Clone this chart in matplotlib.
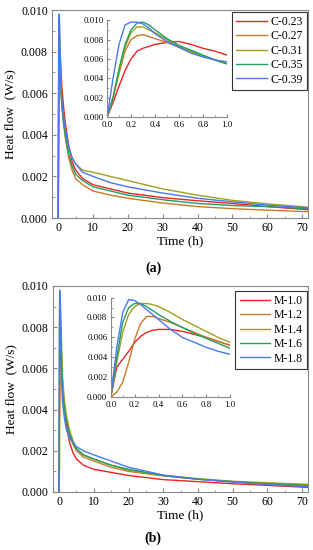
import numpy as np
import matplotlib
matplotlib.use("Agg")
import matplotlib.pyplot as plt
from matplotlib.ticker import MultipleLocator

plt.rcParams['font.family'] = ['Liberation Serif', 'DejaVu Serif']

colors = ['#ee2222', '#c87a28', '#a0a020', '#20a060', '#4a78f0']

# ---- panel (a) ----
labels_a = ['C-0.23', 'C-0.27', 'C-0.31', 'C-0.35', 'C-0.39']
t_early = [0.0, 0.05, 0.1, 0.15, 0.2, 0.25, 0.3, 0.35, 0.4, 0.5, 0.6, 0.7, 0.8, 0.9]
early_a = [
    [0.0, 0.0015, 0.0032, 0.0048, 0.0060, 0.0068, 0.0071, 0.0073, 0.0075, 0.0077, 0.0078, 0.0075, 0.0071, 0.0068],
    [0.0, 0.0020, 0.0045, 0.0068, 0.0080, 0.0084, 0.0085, 0.0083, 0.0081, 0.0077, 0.0072, 0.0067, 0.0063, 0.0059],
    [0.0, 0.0020, 0.0048, 0.0072, 0.0087, 0.0093, 0.0093, 0.0090, 0.0087, 0.0080, 0.0073, 0.0068, 0.0063, 0.0059],
    [0.0, 0.0020, 0.0050, 0.0075, 0.0090, 0.0097, 0.0098, 0.0095, 0.0090, 0.0081, 0.0074, 0.0069, 0.0064, 0.0059],
    [0.0, 0.0040, 0.0075, 0.0095, 0.0098, 0.0098, 0.0096, 0.0092, 0.0086, 0.0078, 0.0072, 0.0066, 0.0062, 0.0059],
]
t_late = [1, 1.5, 2, 3, 4, 5, 7, 10, 15, 20, 30, 40, 50, 60, 72]
late_a = [
    [0.0064, 0.0054, 0.0046, 0.0035, 0.0027, 0.0023, 0.0019, 0.0016, 0.0014, 0.0012, 0.00098, 0.00083, 0.0007, 0.00055, 0.0004],
    [0.0055, 0.0046, 0.0039, 0.0029, 0.0023, 0.0019, 0.0016, 0.0013, 0.0011, 0.00095, 0.00072, 0.00055, 0.00045, 0.00038, 0.0003],
    [0.0055, 0.0048, 0.0042, 0.0034, 0.0029, 0.0026, 0.0023, 0.0022, 0.0020, 0.0018, 0.0014, 0.0011, 0.00085, 0.00068, 0.00052],
    [0.0055, 0.0046, 0.0040, 0.0031, 0.0025, 0.0021, 0.0018, 0.0015, 0.0013, 0.0011, 0.00088, 0.0007, 0.0006, 0.00055, 0.00045],
    [0.0057, 0.0049, 0.0043, 0.0034, 0.0029, 0.0026, 0.0022, 0.0020, 0.0017, 0.0015, 0.0012, 0.00095, 0.00078, 0.00062, 0.00048],
]

# ---- panel (b) ----
labels_b = ['M-1.0', 'M-1.2', 'M-1.4', 'M-1.6', 'M-1.8']
early_b = [
    [0.0, 0.0030, 0.0038, 0.0046, 0.0055, 0.0061, 0.0065, 0.0067, 0.0068, 0.0068, 0.0066, 0.0063, 0.0060, 0.0056],
    [0.0, 0.0005, 0.0015, 0.0035, 0.0058, 0.0074, 0.0081, 0.0081, 0.0079, 0.0075, 0.0070, 0.0065, 0.0060, 0.0056],
    [0.0, 0.0035, 0.0065, 0.0083, 0.0091, 0.0094, 0.0094, 0.0093, 0.0091, 0.0085, 0.0078, 0.0072, 0.0066, 0.0060],
    [0.0, 0.0040, 0.0075, 0.0090, 0.0094, 0.0094, 0.0091, 0.0087, 0.0083, 0.0076, 0.0070, 0.0064, 0.0059, 0.0054],
    [0.0, 0.0050, 0.0085, 0.0098, 0.0097, 0.0093, 0.0088, 0.0083, 0.0078, 0.0068, 0.0060, 0.0055, 0.0050, 0.0046],
]
late_b = [
    [0.0052, 0.0041, 0.0033, 0.0024, 0.0019, 0.0016, 0.0013, 0.0011, 0.00095, 0.0008, 0.0006, 0.0005, 0.0004, 0.00032, 0.00022],
    [0.0052, 0.0043, 0.0036, 0.0028, 0.0023, 0.0020, 0.0017, 0.0015, 0.0012, 0.0010, 0.00078, 0.00062, 0.0005, 0.0004, 0.00033],
    [0.0055, 0.0045, 0.0038, 0.0030, 0.0025, 0.0021, 0.0018, 0.0016, 0.0013, 0.00105, 0.0008, 0.00065, 0.00052, 0.00045, 0.00037],
    [0.0049, 0.0041, 0.0035, 0.0028, 0.0024, 0.0021, 0.0018, 0.0016, 0.0013, 0.0011, 0.0008, 0.00062, 0.0005, 0.0004, 0.0003],
    [0.0043, 0.0036, 0.0031, 0.0026, 0.0024, 0.0022, 0.0020, 0.0018, 0.0015, 0.0012, 0.00082, 0.00062, 0.00048, 0.00036, 0.00025],
]

fig = plt.figure(figsize=(3.13, 5.5), dpi=100)
frame_col = '#888888'


def style_main(ax):
    ax.set_xlim(-1.8, 71.7)
    ax.set_ylim(0, 0.010)
    ax.xaxis.set_major_locator(MultipleLocator(10))
    ax.xaxis.set_minor_locator(MultipleLocator(5))
    ax.yaxis.set_major_locator(MultipleLocator(0.002))
    ax.yaxis.set_minor_locator(MultipleLocator(0.001))
    ax.yaxis.set_major_formatter(plt.FuncFormatter(lambda v, p: f'{v:.3f}'))
    ax.tick_params(which='both', direction='in', labelsize=8.5, color=frame_col, pad=3)
    ax.tick_params(which='major', length=3)
    ax.tick_params(which='minor', length=1.8)
    for s in ax.spines.values():
        s.set_color(frame_col)
        s.set_linewidth(0.8)
    ax.set_xlabel('Time (h)', fontsize=9.5, labelpad=1)
    ax.set_ylabel('Heat flow  (W/s)', fontsize=9.5, labelpad=3)


def style_inset(ax):
    ax.set_xlim(0, 1.0)
    ax.set_ylim(0, 0.010)
    ax.xaxis.set_major_locator(MultipleLocator(0.2))
    ax.xaxis.set_minor_locator(MultipleLocator(0.1))
    ax.yaxis.set_major_locator(MultipleLocator(0.002))
    ax.yaxis.set_minor_locator(MultipleLocator(0.001))
    ax.xaxis.set_major_formatter(plt.FuncFormatter(lambda v, p: f'{v:.1f}'))
    ax.yaxis.set_major_formatter(plt.FuncFormatter(lambda v, p: f'{v:.3f}'))
    ax.tick_params(which='both', direction='in', labelsize=6.3, color=frame_col)
    ax.tick_params(axis='x', pad=3)
    ax.tick_params(axis='y', pad=2.5)
    ax.tick_params(which='major', length=2)
    ax.tick_params(which='minor', length=1.2)
    ax.spines['top'].set_visible(False)
    ax.spines['right'].set_visible(False)
    for s in ('left', 'bottom'):
        ax.spines[s].set_color(frame_col)
        ax.spines[s].set_linewidth(0.8)
    ax.patch.set_alpha(0)


def draw_panel(rect, inset_rect, labels, early, late, leg_anchor, tag, tag_y):
    ax = fig.add_axes(rect)
    ins = fig.add_axes(inset_rect)
    handles = []
    for lab, e, l, c in zip(labels, early, late, colors):
        t = list(t_early) + list(t_late)
        y = list(e) + list(l)
        h, = ax.plot(t, y, color=c, lw=1.0, label=lab)
        handles.append(h)
        ins.plot(t_early + [1.0], list(e) + [l[0]], color=c, lw=1.0)
    style_main(ax)
    style_inset(ins)
    leg = fig.legend(handles=handles, loc='upper right', bbox_to_anchor=leg_anchor,
                     fontsize=8.5, frameon=True, fancybox=False, handlelength=2.6,
                     handletextpad=0.3, borderpad=0.35, labelspacing=0.2,
                     borderaxespad=0)
    leg.get_frame().set_edgecolor('black')
    leg.get_frame().set_linewidth(0.8)
    fig.text(153 / 313, tag_y, tag, fontsize=10, fontweight='bold', ha='center', va='center')
    return ax


draw_panel([0.166, 0.6036, 0.818, 0.378], [0.342, 0.787, 0.383, 0.1764],
           labels_a, early_a, late_a, (307 / 313, 1 - 12 / 550), '(a)', 1 - 268 / 550)
draw_panel([0.169, 0.1055, 0.815, 0.3745], [0.354, 0.278, 0.381, 0.181],
           labels_b, early_b, late_b, (307 / 313, 1 - 291 / 550), '(b)', 1 - 538 / 550)

fig.savefig('out.png', dpi=100)
